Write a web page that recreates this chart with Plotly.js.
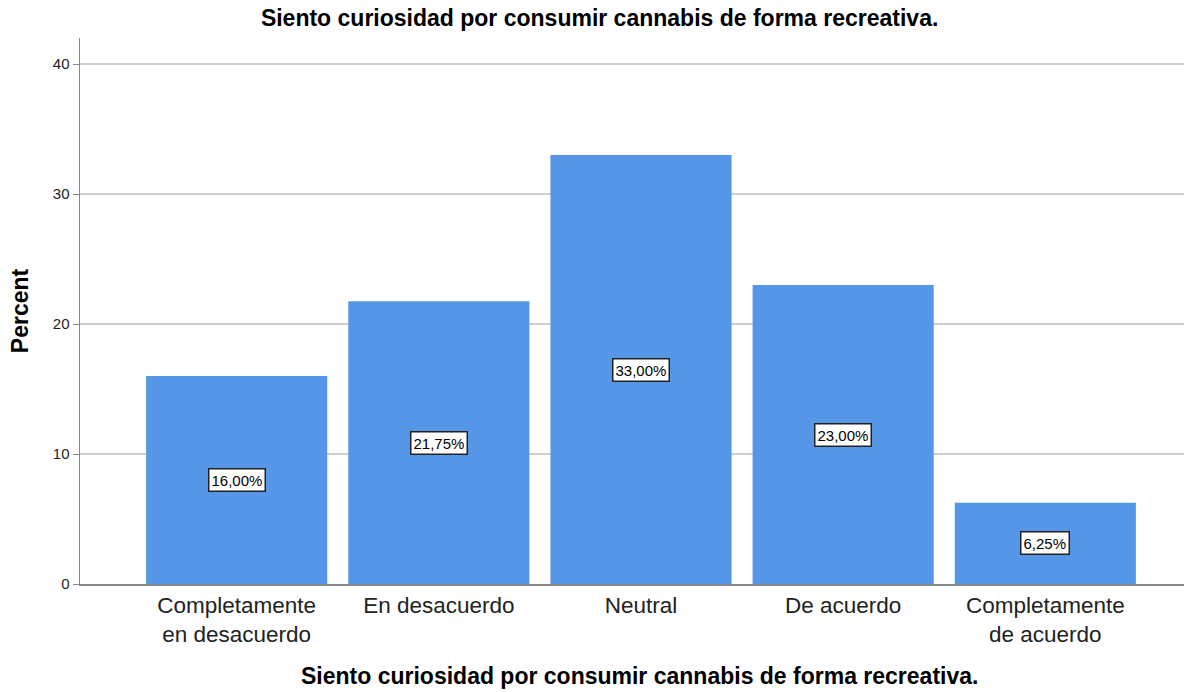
<!DOCTYPE html>
<html><head><meta charset="utf-8">
<script src="https://cdn.plot.ly/plotly-3.0.1.min.js"></script>
<style>html,body{margin:0;padding:0;background:#fff}</style>
</head><body>
<div id="chart" style="width:1185px;height:692px"></div>
<script>
const categories = ["Completamente<br>en desacuerdo", "En desacuerdo", "Neutral", "De acuerdo", "Completamente<br>de acuerdo"];
const percents = [16.00, 21.75, 33.00, 23.00, 6.25];
const labels = ["16,00%", "21,75%", "33,00%", "23,00%", "6,25%"];
const chartTitle = "Siento curiosidad por consumir cannabis de forma recreativa.";

const FONT = 'Liberation Sans, Arial, sans-serif';
const annotations = categories.map((c, i) => ({
  x: c, y: percents[i] / 2, xref: 'x', yref: 'y',
  text: labels[i], showarrow: false,
  font: {family: FONT, size: 15, color: '#000'},
  bgcolor: '#fff', bordercolor: '#222', borderwidth: 1.5, borderpad: 2
}));
annotations.push({
  text: chartTitle, xref: 'paper', yref: 'paper', x: 0.507, y: -0.1685,
  xanchor: 'center', yanchor: 'middle', showarrow: false,
  font: {family: FONT, size: 23, color: '#000', weight: 'bold'}
});

Plotly.newPlot('chart', [{
  type: 'bar', x: categories, y: percents,
  marker: {color: '#5596E6', line: {width: 0}},
  hoverinfo: 'none'
}], {
  width: 1185, height: 692,
  margin: {l: 80, r: 1, t: 38, b: 108},
  paper_bgcolor: '#fff', plot_bgcolor: '#fff',
  bargap: 0.104,
  font: {family: FONT, color: '#222'},
  title: {text: chartTitle, x: 0.506, xanchor: 'center', y: 0.974, yanchor: 'middle',
    font: {family: FONT, size: 23, color: '#000', weight: 'bold'}},
  xaxis: {
    type: 'category', range: [-0.775, 4.686],
    showline: true, linecolor: '#888', linewidth: 1.5,
    ticks: '', showgrid: false,
    tickfont: {size: 22.5, color: '#222'}
  },
  yaxis: {
    range: [0, 42], tickvals: [0, 10, 20, 30, 40],
    showline: true, linecolor: '#888', linewidth: 1.5,
    showgrid: true, gridcolor: '#cfcfcf', gridwidth: 1.5,
    ticks: 'outside', ticklen: 6, tickcolor: '#888',
    zeroline: false,
    tickfont: {size: 15, color: '#222'},
    title: {text: 'Percent', standoff: 18,
      font: {family: FONT, size: 23, color: '#000', weight: 'bold'}}
  },
  annotations: annotations,
  showlegend: false
}, {displayModeBar: false, staticPlot: true});
</script>
</body></html>
